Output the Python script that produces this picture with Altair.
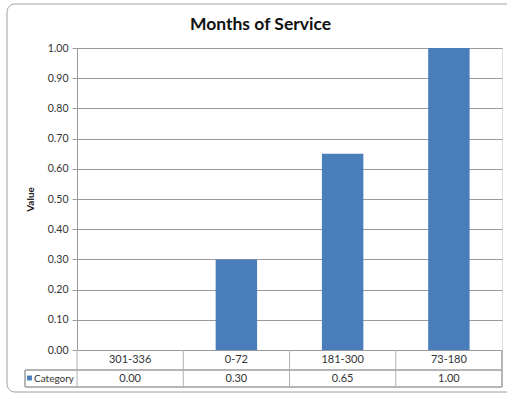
import altair as alt
import pandas as pd

categories = ["301-336", "0-72", "181-300", "73-180"]
values = [0.00, 0.30, 0.65, 1.00]
series_name = "Category"
title_text = "Months of Service"
y_title = "Value"

df = pd.DataFrame({"cat": categories, "value": values})
df["label"] = [f"{v:.2f}" for v in values]

W, H = 425, 302
FONT = "Lato"
GRID = "#9a9a9a"
LINE = "#b0b0b0"
BLUE = "#4a7ebb"

xenc = alt.X("cat:N", sort=categories, axis=None,
             scale=alt.Scale(paddingInner=0, paddingOuter=0))

bars = alt.Chart(df).mark_bar(color=BLUE, width={"band": 0.39}).encode(
    x=xenc,
    y=alt.Y("value:Q", scale=alt.Scale(domain=[0, 1], nice=False),
            axis=alt.Axis(values=[i / 10 for i in range(11)], format=".2f",
                          title=y_title, titleFont=FONT, titleFontSize=10,
                          titleFontWeight="bold", titleColor="#222",
                          titlePadding=12, labelFont=FONT, labelFontSize=10.5,
                          labelColor="#333", labelPadding=4,
                          grid=True, gridColor=GRID, gridWidth=1,
                          domain=True, domainColor=GRID, tickColor=GRID,
                          tickSize=5)),
)

base = alt.Chart(df)

# table grid lines
vlines = base.mark_rule(color=LINE, strokeWidth=1).encode(
    x=alt.X("cat:N", sort=categories, bandPosition=0, axis=None),
    y=alt.value(H), y2=alt.value(H + 37),
)
right_line = base.mark_rule(color=LINE, strokeWidth=1).encode(
    x=alt.value(W), y=alt.value(H), y2=alt.value(H + 37)
)
left_line = base.mark_rule(color=LINE, strokeWidth=1).encode(
    x=alt.value(-52), y=alt.value(H + 20), y2=alt.value(H + 37)
)
hline1 = base.mark_rule(color=LINE, strokeWidth=1).encode(
    x=alt.value(-52), x2=alt.value(W), y=alt.value(H + 20)
)
hline2 = base.mark_rule(color=LINE, strokeWidth=1).encode(
    x=alt.value(-52), x2=alt.value(W), y=alt.value(H + 37)
)

cat_text = base.mark_text(font=FONT, fontSize=11, color="#333").encode(
    x=alt.X("cat:N", sort=categories, bandPosition=0.5, axis=None),
    y=alt.value(H + 10), text="cat:N",
)
val_text = base.mark_text(font=FONT, fontSize=11, color="#333").encode(
    x=alt.X("cat:N", sort=categories, bandPosition=0.5, axis=None),
    y=alt.value(H + 28.5), text="label:N",
)

key_df = pd.DataFrame({"s": [series_name]})
key = alt.Chart(key_df).mark_square(color=BLUE, size=24, opacity=1).encode(
    x=alt.value(-47.5), y=alt.value(H + 28)
)
key_text = alt.Chart(key_df).mark_text(font=FONT, fontSize=10, color="#333",
                                       align="left").encode(
    x=alt.value(-43), y=alt.value(H + 28.5), text="s:N"
)

border = alt.Chart(key_df).mark_rect(fill=None, stroke="#a0a0a0", strokeWidth=1,
                                      cornerRadius=8).encode(
    x=alt.value(-70), x2=alt.value(440), y=alt.value(-44), y2=alt.value(H + 42)
)

chart = alt.layer(border, bars, vlines, right_line, left_line, hline1, hline2,
                  cat_text, val_text, key, key_text).properties(
    width=W, height=H,
    title=alt.TitleParams(title_text, font=FONT, fontSize=17.5, fontWeight="bold",
                          color="#111", anchor="middle", frame="group",
                          baseline="bottom", dx=-29, dy=48, offset=0),
    autosize=alt.AutoSizeParams(type="none"),
    padding={"left": 77, "top": 48, "right": 5, "bottom": 44},
).configure_view(stroke=None).configure(background="white")

chart.save("out.html", embed_options={"renderer": "svg", "actions": False})
